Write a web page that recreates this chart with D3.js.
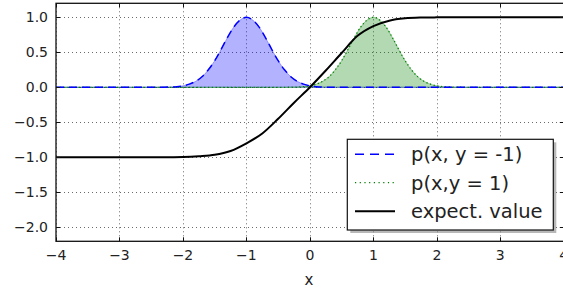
<!DOCTYPE html>
<html><head><meta charset="utf-8">
<script src="https://cdn.jsdelivr.net/npm/d3@7"></script>
<style>
html,body{margin:0;padding:0;background:#fff;overflow:hidden}
svg{display:block;font-family:"DejaVu Sans",sans-serif}
</style></head>
<body><svg id="c" width="563" height="293"></svg>
<script>
// ---- data ----
const xs = [-4.0,-3.5,-3.0,-2.5,
 -2.3,-2.2,-2.1,-2.0,-1.9,-1.8,-1.7,-1.6,-1.5,-1.4,-1.3,-1.2,-1.1,-1.0,-0.9,-0.8,-0.7,-0.6,-0.5,-0.4,-0.3,-0.2,-0.1,
 0.0,0.1,0.2,0.3,0.4,0.5,0.6,0.7,0.8,0.9,1.0,1.1,1.2,1.3,1.4,1.5,1.6,1.7,1.8,1.9,2.0,2.1,2.2,2.3,
 2.5,3.0,3.5,4.0];
const pNeg = [0,0,0,0,
 0.0015,0.004,0.009,0.021,0.045,0.085,0.15,0.25,0.38,0.54,0.71,0.86,0.96,1.0,0.96,0.86,0.71,0.54,0.38,0.25,0.15,0.085,0.045,
 0.021,0.009,0.004,0.0015,0,0,0,0,0,0,0,0,0,0,0,0,0,0,0,0,0,0,0,0,
 0,0,0,0];
const pPos = [0,0,0,0,
 0,0,0,0,0,0,0,0,0,0,0,0,0,0,0,0,0,0,0,0,0.0015,0.004,0.009,
 0.021,0.045,0.085,0.15,0.25,0.38,0.54,0.71,0.86,0.96,1.0,0.96,0.86,0.71,0.54,0.38,0.25,0.15,0.085,0.045,0.021,0.009,0.004,0.0015,
 0,0,0,0];
const xE = [-4,-3,-2.5,-2.25,-2,-1.75,-1.5,-1.25,-1,-0.75,-0.5,-0.25,0,0.25,0.5,0.75,1,1.25,1.5,1.75,2,2.25,2.5,3,4];
const yE = [-1,-1,-1,-0.999,-0.996,-0.985,-0.965,-0.91,-0.80,-0.66,-0.45,-0.22,0,0.24,0.49,0.735,0.875,0.952,0.985,0.996,0.999,1,1,1,1];
const xTicks = [-4,-3,-2,-1,0,1,2,3,4];
const yTicks = [-2.0,-1.5,-1.0,-0.5,0.0,0.5,1.0];
const legendLabels = ["p(x, y = -1)", "p(x,y = 1)", "expect. value"];

// ---- layout ----
const svg = d3.select("#c");
const L = 56, R = 563.8, T = 3.3, B = 241.3;
const x = d3.scaleLinear().domain([-4,4]).range([L,R]);
const y = d3.scaleLinear().domain([-2.2,1.2]).range([B,T]);
const fmt = v => (v<0?"\u2212":"") + Math.abs(v).toFixed(1);
const fmtX = v => (v<0?"\u2212":"") + Math.abs(v);

svg.append("defs").append("clipPath").attr("id","clip")
  .append("rect").attr("x",L).attr("y",T).attr("width",R-L).attr("height",B-T);

// grid
const g = svg.append("g");
g.selectAll(".gx").data(xTicks).join("line")
  .attr("x1",d=>Math.round(x(d))+0.5).attr("x2",d=>Math.round(x(d))+0.5).attr("y1",T).attr("y2",B)
  .attr("stroke","#444").attr("stroke-width",0.8).attr("stroke-dasharray","1,3");
g.selectAll(".gy").data(yTicks).join("line")
  .attr("y1",d=>Math.round(y(d))+0.5).attr("y2",d=>Math.round(y(d))+0.5).attr("x1",L).attr("x2",R)
  .attr("stroke","#444").attr("stroke-width",0.8).attr("stroke-dasharray","1,3");

const plot = svg.append("g").attr("clip-path","url(#clip)");
const idx = d3.range(xs.length);
const area = vals => d3.area().x(i=>x(xs[i])).y0(y(0)).y1(i=>y(vals[i])).curve(d3.curveMonotoneX)(idx);
const line = vals => d3.line().x(i=>x(xs[i])).y(i=>y(vals[i])).curve(d3.curveMonotoneX)(idx);

plot.append("path").attr("d",area(pNeg)).attr("fill","rgba(0,0,255,0.3)").attr("stroke","rgba(0,0,255,0.3)").attr("stroke-width",1);
plot.append("path").attr("d",area(pPos)).attr("fill","rgba(0,128,0,0.3)").attr("stroke","rgba(0,128,0,0.3)").attr("stroke-width",1);
plot.append("path").attr("d",line(pPos)).attr("fill","none").attr("stroke","#008000").attr("stroke-width",1.3).attr("stroke-dasharray","1.2,2.6");
plot.append("path").attr("d",line(pNeg)).attr("fill","none").attr("stroke","#0000ff").attr("stroke-width",1.5).attr("stroke-dasharray","8,5");
const eIdx = d3.range(xE.length);
plot.append("path").attr("d",d3.line().x(i=>x(xE[i])).y(i=>y(yE[i])).curve(d3.curveMonotoneX)(eIdx))
  .attr("fill","none").attr("stroke","#000").attr("stroke-width",2);

// spines
svg.append("rect").attr("x",L).attr("y",T).attr("width",R-L).attr("height",B-T)
  .attr("fill","none").attr("stroke","#111").attr("stroke-width",1.3);

// ticks
const tk = svg.append("g").attr("stroke","#111").attr("stroke-width",1);
xTicks.forEach(v=>{
  const px = Math.round(x(v))+0.5;
  tk.append("line").attr("x1",px).attr("x2",px).attr("y1",B).attr("y2",B-4);
  tk.append("line").attr("x1",px).attr("x2",px).attr("y1",T).attr("y2",T+4);
});
yTicks.forEach(v=>{
  const py = Math.round(y(v))+0.5;
  tk.append("line").attr("y1",py).attr("y2",py).attr("x1",L).attr("x2",L+4);
  tk.append("line").attr("y1",py).attr("y2",py).attr("x1",R).attr("x2",R-4);
});

// tick labels
svg.append("g").selectAll("text").data(xTicks).join("text")
  .attr("x",d=>x(d)).attr("y",B+19).attr("text-anchor","middle")
  .attr("font-size",14).attr("fill","#222").text(fmtX);
svg.append("g").selectAll("text").data(yTicks).join("text")
  .attr("x",L-8).attr("y",d=>y(d)).attr("dy","0.36em").attr("text-anchor","end")
  .attr("font-size",14).attr("fill","#222").text(fmt);
svg.append("text").attr("x",(L+R)/2-1).attr("y",285).attr("text-anchor","middle")
  .attr("font-size",15).attr("fill","#222").text("x");

// legend
const lg = svg.append("g");
const lx = 347.3, ly = 139.3, lw = 206, lh = 90.7;
lg.append("rect").attr("x",lx+3).attr("y",ly+3).attr("width",lw).attr("height",lh).attr("fill","#888").attr("opacity",0.6);
lg.append("rect").attr("x",lx).attr("y",ly).attr("width",lw).attr("height",lh).attr("fill","#fff").attr("stroke","#111").attr("stroke-width",1.2);
const styles = [
  {c:"#0000ff", w:1.5, d:"9,6"},
  {c:"#008000", w:1.3, d:"1.2,3.5"},
  {c:"#000", w:2, d:null}
];
const rowY = [154.3, 182.7, 211.3];
legendLabels.forEach((t,i)=>{
  const l = lg.append("line").attr("x1",355).attr("x2",395).attr("y1",rowY[i]).attr("y2",rowY[i])
    .attr("stroke",styles[i].c).attr("stroke-width",styles[i].w);
  if (styles[i].d) l.attr("stroke-dasharray",styles[i].d);
  lg.append("text").attr("x",411).attr("y",rowY[i]).attr("dy","0.36em")
    .attr("font-size",19.5).attr("fill","#222").text(t);
});
</script></body></html>
